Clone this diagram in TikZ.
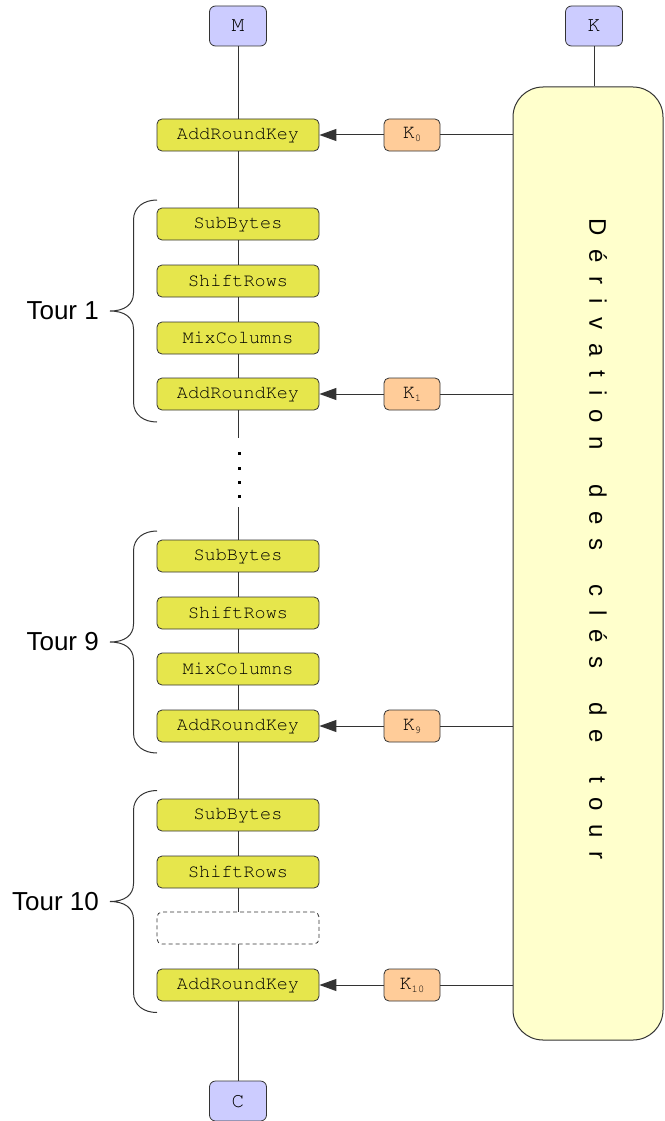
\documentclass[tikz,border=0pt]{standalone}
\usepackage{fontspec}
\setmainfont{Liberation Sans}
\setmonofont{Liberation Mono}
\usetikzlibrary{arrows.meta}

\definecolor{ioblue}{HTML}{CCCCFF}
\definecolor{opyellow}{HTML}{E6E64C}
\definecolor{keyorange}{HTML}{FFCC99}
\definecolor{derivpale}{HTML}{FFFFCC}
\definecolor{edgegray}{HTML}{333333}

\newcommand{\opfont}{\fontencoding{T1}\fontfamily{pcr}\fontsize{18.5}{18.5}\selectfont}
\newcommand{\iofont}{\fontencoding{T1}\fontfamily{pcr}\fontsize{21}{21}\selectfont}
\newcommand{\keyfont}{\fontencoding{T1}\fontfamily{pcr}\fontsize{20}{20}\selectfont}
\newcommand{\ksub}[1]{K\raisebox{-3pt}{\fontsize{10.5}{10.5}\selectfont #1}}
\newcommand{\ls}{\hspace{13.7pt}}

\tikzset{
  io/.style={draw=edgegray, fill=ioblue, line width=0.8pt, rounded corners=6pt, minimum width=57pt, minimum height=40pt, inner sep=0pt, text=black, font=\iofont},
  op/.style={draw=edgegray, fill=opyellow, line width=0.8pt, rounded corners=5pt, minimum width=162pt, minimum height=32pt, inner sep=0pt, text=black, font=\opfont},
  blank/.style={draw=edgegray, line width=0.8pt, dash pattern=on 4pt off 3pt, rounded corners=5pt, minimum width=162pt, minimum height=32pt, inner sep=0pt},
  key/.style={draw=edgegray, fill=keyorange, line width=0.8pt, rounded corners=5pt, minimum width=56pt, minimum height=32pt, inner sep=0pt, text=black, font=\keyfont},
  link/.style={draw=edgegray, line width=1pt},
  feed/.style={link, -{Triangle[length=17pt,width=12pt]}},
  tourbrace/.pic={
    \draw[link] (0,-111) .. controls (-13,-111) and (-23.5,-104) .. (-23.5,-91)
      -- (-23.5,-18) .. controls (-23.5,-6) and (-33,0) .. (-47,0)
      .. controls (-33,0) and (-23.5,6) .. (-23.5,18)
      -- (-23.5,91) .. controls (-23.5,104) and (-13,111) .. (0,111);
    \node[anchor=east, inner sep=0pt, font=\fontsize{26}{26}\selectfont] (-label) at (-58,0) {\tikzpictext};
  }
}

\begin{document}
\begin{tikzpicture}[x=1pt,y=-1pt]
\useasboundingbox (0,0) rectangle (664,1121);
% Inputs
\node[io] (m) at (238,26) {M};
\node[io] (k) at (594,26) {K};
\node[io] (c) at (238,1101) {C};
% Key schedule
\node[draw=edgegray, fill=derivpale, rounded corners=30pt, minimum width=150pt, minimum height=953pt, line width=1pt] (deriv) at (588,563.5) {};
\node[rotate=-90, inner sep=0pt, font=\fontsize{24}{24}\selectfont] (derivtext) at (598,539)
  {D\ls é\ls r\ls i\ls v\ls a\ls t\ls i\ls o\ls n\ls\ \ls d\ls e\ls s\ls\ \ls c\ls l\ls é\ls s\ls\ \ls d\ls e\ls\ \ls t\ls o\ls u\ls r};
% Initial round
\node[op] (ark0) at (238,135) {AddRoundKey};
\node[key] (k0) at (412,135) {\ksub{0}};
% Round 1
\node[op] (sb1) at (238,224) {SubBytes};
\node[op] (sr1) at (238,281) {ShiftRows};
\node[op] (mc1) at (238,338) {MixColumns};
\node[op] (ark1) at (238,394) {AddRoundKey};
\node[key] (k1) at (412,394) {\ksub{1}};
% Round 9
\node[op] (sb9) at (238,556) {SubBytes};
\node[op] (sr9) at (238,613) {ShiftRows};
\node[op] (mc9) at (238,669) {MixColumns};
\node[op] (ark9) at (238,726) {AddRoundKey};
\node[key] (k9) at (412,726) {\ksub{9}};
% Round 10
\node[op] (sb10) at (238,815) {SubBytes};
\node[op] (sr10) at (238,872) {ShiftRows};
\node[blank] (none10) at (238,928) {};
\node[op] (ark10) at (238,985) {AddRoundKey};
\node[key] (k10) at (412,985) {\ksub{10}};
% Gap
\coordinate (gap1) at (238,438);
\coordinate (gap2) at (238,507);
\foreach \y in {453,468,482,496}
  \fill (237.8,\y-1.5) rectangle (240.8,\y+1.5);
% Data path
\draw[link] (m) -- (ark0) -- (sb1) -- (sr1) -- (mc1) -- (ark1) -- (gap1);
\draw[link] (gap2) -- (sb9) -- (sr9) -- (mc9) -- (ark9) -- (sb10) -- (sr10) -- (none10) -- (ark10) -- (c);
\draw[link] (k) -- (k |- deriv.north);
% Round keys
\foreach \r in {0,1,9,10}{
  \draw[link] (deriv.west |- k\r) -- (k\r);
  \draw[feed] (k\r) -- (ark\r);
}
% Rounds
\pic[pic text={Tour 1}] (t1) at (157,311) {tourbrace};
\pic[pic text={Tour 9}] (t9) at (157,642) {tourbrace};
\pic[pic text={Tour 10}] (t10) at (157,901.5) {tourbrace};
\end{tikzpicture}
\end{document}
